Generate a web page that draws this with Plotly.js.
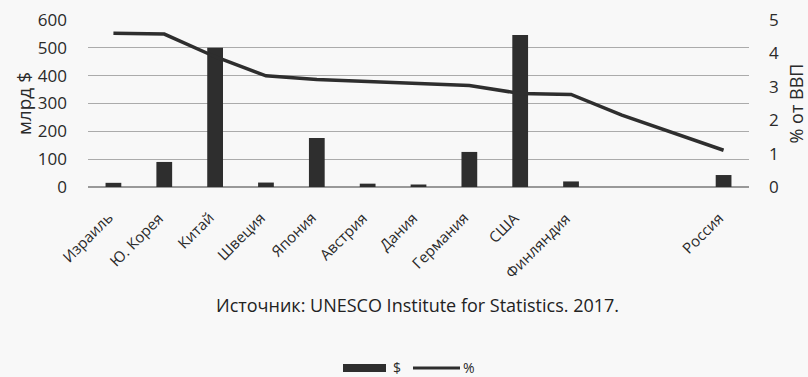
<!DOCTYPE html>
<html>
<head>
<meta charset="utf-8">
<script src="https://cdn.plot.ly/plotly-3.0.1.min.js"></script>
<style>
  html, body { margin: 0; padding: 0; background: #f8f8f8; }
  #chart { width: 808px; height: 377px; }
</style>
</head>
<body>
<div id="chart"></div>
<script>
// R&D spending by country: billions of dollars (bars) and share of GDP (line)
const countries = ['Израиль', 'Ю. Корея', 'Китай', 'Швеция', 'Япония', 'Австрия',
                   'Дания', 'Германия', 'США', 'Финляндия', '', '', 'Россия'];
const spendBn = [15, 90, 500, 16, 176, 12, 9, 126, 546, 20, null, null, 43];
const shareGdp = [4.6, 4.58, 3.9, 3.33, 3.22, 3.16, 3.1, 3.04, 2.8, 2.77, 2.15, 1.62, 1.1];
const sourceNote = 'Источник: UNESCO Institute for Statistics. 2017.';
const leftTitle = 'млрд $';
const rightTitle = '% от ВВП';
const legendNames = ['$', '%'];

const W = 808, H = 377;
const M = { l: 88, r: 59, t: 20, b: 190 };
const plotW = W - M.l - M.r, plotH = H - M.t - M.b;
// pixel → paper helpers for the footer decorations
const px = x => (x - M.l) / plotW;
const py = y => (H - M.b - y) / plotH;

const ink = '#2e2e2e';
const family = '"Open Sans", "DejaVu Sans", sans-serif';
const idx = countries.map((_, i) => i);

const traces = [
  {
    type: 'bar', name: legendNames[0], x: idx, y: spendBn,
    marker: { color: ink }, yaxis: 'y', showlegend: false
  },
  {
    type: 'scatter', mode: 'lines', name: legendNames[1], x: idx, y: shareGdp,
    line: { color: ink, width: 3.5 }, yaxis: 'y2', showlegend: false
  }
];

// diagonal category labels, each ending just under its category slot
const categoryLabels = countries.map((c, i) => ({
  text: c, xref: 'x', yref: 'paper', x: i, y: py(205), xshift: 6,
  xanchor: 'right', yanchor: 'top', textangle: -45, showarrow: false,
  font: { family: family, size: 15, color: '#2a2a2a' }
})).filter(a => a.text);

const layout = {
  width: W, height: H,
  margin: M,
  paper_bgcolor: '#f8f8f8', plot_bgcolor: '#f8f8f8',
  font: { family: family, size: 17, color: '#2a2a2a' },
  bargap: 0.69,
  showlegend: false,
  xaxis: {
    range: [-0.5, countries.length - 0.5],
    showticklabels: false, showgrid: false, zeroline: false,
    showline: false, ticks: ''
  },
  yaxis: {
    range: [0, 600], dtick: 100, showgrid: true, gridcolor: '#ababab', gridwidth: 1,
    zeroline: true, zerolinecolor: '#999', zerolinewidth: 1.5,
    showline: false, ticks: '', ticklabelstandoff: 20,
    title: { text: leftTitle, standoff: 1, font: { size: 19 } }
  },
  yaxis2: {
    range: [0, 5], dtick: 1, overlaying: 'y', side: 'right', showgrid: false,
    zeroline: false, showline: false, ticks: '', ticklabelstandoff: 19,
    title: { text: rightTitle, standoff: 14, font: { size: 18 } }
  },
  shapes: [
    // legend keys
    { type: 'rect', xref: 'paper', yref: 'paper', x0: px(343), x1: px(386), y0: py(372), y1: py(364),
      fillcolor: ink, line: { width: 0 } },
    { type: 'line', xref: 'paper', yref: 'paper', x0: px(413), x1: px(460), y0: py(368), y1: py(368),
      line: { color: ink, width: 3 } }
  ],
  annotations: categoryLabels.concat([
    { text: sourceNote, xref: 'paper', yref: 'paper', x: px(417), y: py(305),
      xanchor: 'center', yanchor: 'middle', showarrow: false, font: { size: 18, color: '#222' } },
    { text: legendNames[0], xref: 'paper', yref: 'paper', x: px(392), y: py(367),
      xanchor: 'left', yanchor: 'middle', showarrow: false, borderpad: 0,
      font: { size: 14, color: '#2a2a2a' } },
    { text: legendNames[1], xref: 'paper', yref: 'paper', x: px(462), y: py(367),
      xanchor: 'left', yanchor: 'middle', showarrow: false, borderpad: 0,
      font: { size: 14, color: '#2a2a2a' } }
  ])
};

Plotly.newPlot('chart', traces, layout, { displayModeBar: false, staticPlot: true });
</script>
</body>
</html>
